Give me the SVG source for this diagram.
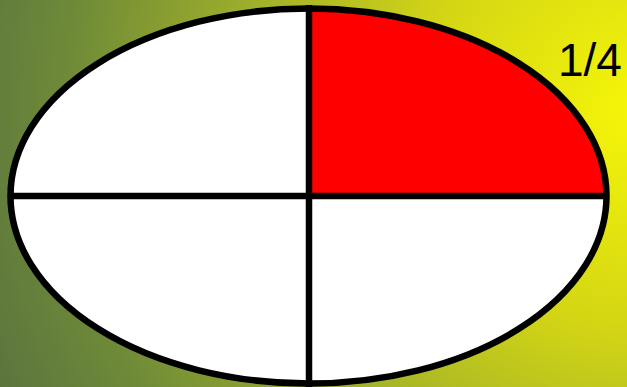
<svg xmlns="http://www.w3.org/2000/svg" width="627" height="387" viewBox="0 0 627 387">
  <defs>
    <radialGradient id="bg" gradientUnits="userSpaceOnUse" cx="640" cy="110" r="720">
      <stop offset="0" stop-color="#f6f608"/>
      <stop offset="0.3" stop-color="#d4d614"/>
      <stop offset="0.55" stop-color="#a0b02a"/>
      <stop offset="0.8" stop-color="#6e8a38"/>
      <stop offset="1" stop-color="#587040"/>
    </radialGradient>
    <style>
      .edge { fill: none; stroke: #000; stroke-width: 6.5; }
      .label { font-family: "Liberation Sans", Arial, sans-serif; font-size: 46px; fill: #000; }
    </style>
  </defs>
  <rect x="0" y="0" width="627" height="387" fill="url(#bg)"/>
  <g id="ellipse">
    <ellipse cx="308.5" cy="196" rx="298" ry="187.5" fill="#fff"/>
    <path id="quarter" d="M309,196 L309,8.5 A298,187.5 0 0 1 606.5,196 Z" fill="#f00"/>
    <ellipse cx="308.5" cy="196" rx="298" ry="187.5" class="edge"/>
  </g>
  <g id="connectors">
    <line x1="309" y1="5" x2="309" y2="387" class="edge"/>
    <line x1="10" y1="196" x2="607" y2="196" class="edge"/>
  </g>
  <g id="label">
    <text x="558" y="76" class="label">1/4</text>
  </g>
</svg>
